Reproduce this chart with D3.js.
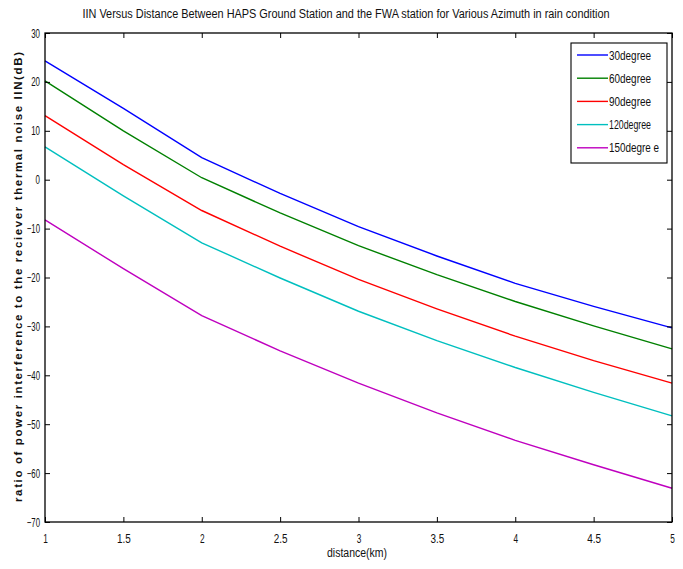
<!DOCTYPE html>
<html><head><meta charset="utf-8">
<script src="https://cdn.jsdelivr.net/npm/d3@7"></script>
<style>body{margin:0;background:#fff}svg{display:block}text{font-family:"Liberation Sans",Arial,sans-serif}</style>
</head><body><svg id="c" width="683" height="569"></svg>
<script>
const distances = [1, 1.5, 2, 2.5, 3, 3.5, 4, 4.5, 5];
const seriesNames = ["30degree", "60degree", "90degree", "120degree", "150degre e"];
const deg30  = [24.3, 14.6, 4.5, -2.8, -9.6, -15.6, -21.2, -25.9, -30.3];
const deg60  = [20.2, 10.0, 0.4, -6.8, -13.5, -19.4, -24.9, -29.9, -34.6];
const deg90  = [13.1, 3.1, -6.3, -13.6, -20.4, -26.4, -32.0, -37.0, -41.6];
const deg120 = [6.7, -3.3, -12.9, -20.1, -26.9, -32.9, -38.4, -43.5, -48.3];
const deg150 = [-8.2, -18.2, -27.8, -35.0, -41.6, -47.7, -53.3, -58.3, -63.1];
const xTicks = [1, 1.5, 2, 2.5, 3, 3.5, 4, 4.5, 5];
const yTicks = [30, 20, 10, 0, -10, -20, -30, -40, -50, -60, -70];
const colors = ["#0000ff", "#008000", "#ff0000", "#00bfbf", "#bf00bf"];
const allSeries = [deg30, deg60, deg90, deg120, deg150];

const svg = d3.select("#c");
const L = 45, R = 672, T = 33, B = 522;
const x = d3.scaleLinear().domain([1, 5]).range([L, R]);
const y = d3.scaleLinear().domain([-70, 30]).range([B, T]);

// lines
const line = d3.line().x((d, i) => x(distances[i])).y(d => y(d));
allSeries.forEach((s, k) => {
  svg.append("path").datum(s).attr("d", line).attr("fill", "none")
    .attr("stroke", colors[k]).attr("stroke-width", 1.4);
});

// axes (ticks inward, MATLAB style)
const tl = 5;
const axB = svg.append("g").attr("transform", `translate(0,${B})`)
  .call(d3.axisBottom(x).tickValues(xTicks).tickSize(-tl).tickPadding(10).tickFormat(d3.format("")));
const axT = svg.append("g").attr("transform", `translate(0,${T})`)
  .call(d3.axisTop(x).tickValues(xTicks).tickSize(-tl).tickFormat(""));
const axL = svg.append("g").attr("transform", `translate(${L},0)`)
  .call(d3.axisLeft(y).tickValues(yTicks).tickSize(-tl).tickPadding(8));
const axR = svg.append("g").attr("transform", `translate(${R},0)`)
  .call(d3.axisRight(y).tickValues(yTicks).tickSize(-tl).tickFormat(""));
[axB, axT, axL, axR].forEach(a => {
  a.selectAll(".domain").remove();
  a.selectAll(".tick line").attr("stroke", "#000");
  a.selectAll("text").attr("font-size", 12.5).attr("fill", "#111");
});
axB.selectAll(".tick text").attr("y", 12).attr("dy", "0.71em")
  .attr("lengthAdjust", "spacingAndGlyphs")
  .attr("textLength", function(d){ return String(d).length * 4.6; });
axL.selectAll(".tick text").attr("x", -5)
  .attr("lengthAdjust", "spacingAndGlyphs")
  .attr("textLength", function(d){ return String(d).length * 4.4; });
svg.append("rect").attr("x", L).attr("y", T).attr("width", R - L).attr("height", B - T)
  .attr("fill", "none").attr("stroke", "#000").attr("stroke-width", 1.3);

// title
svg.append("text").attr("x", 346).attr("y", 18).attr("text-anchor", "middle")
  .attr("font-size", 12).attr("fill", "#111").attr("textLength", 527).attr("lengthAdjust", "spacingAndGlyphs")
  .text("IIN Versus Distance Between HAPS Ground Station and the FWA station for Various Azimuth in rain condition");
// x label
svg.append("text").attr("x", 357).attr("y", 557).attr("text-anchor", "middle")
  .attr("font-size", 12.5).attr("fill", "#111").attr("textLength", 60).attr("lengthAdjust", "spacingAndGlyphs").text("distance(km)");
// y label
svg.append("text").attr("transform", "translate(22,277) rotate(-90)").attr("text-anchor", "middle")
  .attr("font-size", 11.5).attr("font-weight", "bold").attr("fill", "#111").attr("textLength", 450).attr("lengthAdjust", "spacing")
  .text("ratio of power interference to the reciever thermal noise IIN(dB)");

// legend
const lg = svg.append("g");
lg.append("rect").attr("x", 571).attr("y", 43).attr("width", 96).attr("height", 120)
  .attr("fill", "#fff").attr("stroke", "#000").attr("stroke-width", 1.1);
seriesNames.forEach((n, i) => {
  const yy = 55 + i * 23.2;
  lg.append("line").attr("x1", 577).attr("x2", 608).attr("y1", yy).attr("y2", yy)
    .attr("stroke", colors[i]).attr("stroke-width", 1.4);
  lg.append("text").attr("x", 609).attr("y", yy + 4.5).attr("font-size", 12.5).attr("fill", "#111")
    .attr("textLength", n.length > 9 ? 50 : 42).attr("lengthAdjust", "spacingAndGlyphs").text(n);
});
</script></body></html>
